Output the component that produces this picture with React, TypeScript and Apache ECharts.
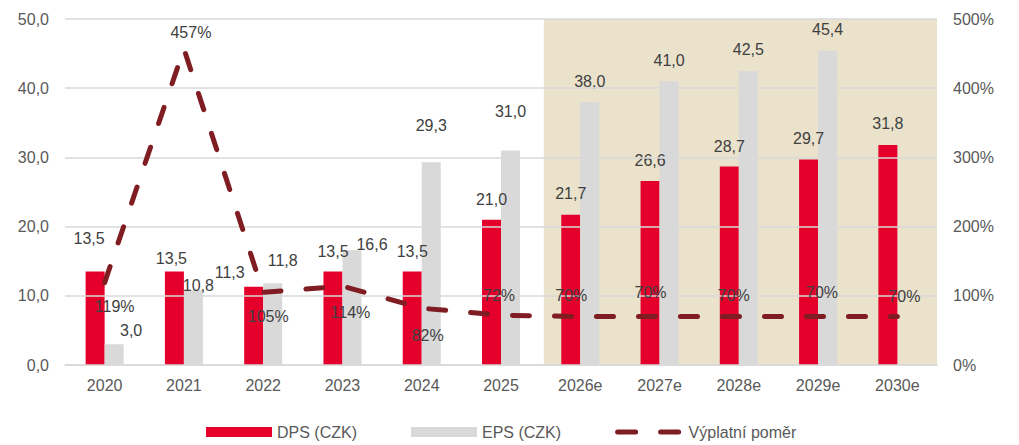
import React, { useEffect, useRef } from "react";
import * as echarts from "echarts";

const categories = ["2020", "2021", "2022", "2023", "2024", "2025", "2026e", "2027e", "2028e", "2029e", "2030e"];
const dps = [13.5, 13.5, 11.3, 13.5, 13.5, 21.0, 21.7, 26.6, 28.7, 29.7, 31.8];
const eps = [3.0, 10.8, 11.8, 16.6, 29.3, 31.0, 38.0, 41.0, 42.5, 45.4, null];
const payout = [119, 457, 105, 114, 82, 72, 70, 70, 70, 70, 70];
const leftTicks = { min: 0, max: 50, interval: 10 };
const rightTicks = { min: 0, max: 500, interval: 100 };
const forecastStart = 6;

// label placement tweaks (styling only)
const dpsLabelOffsets = [[-6, -13], [-3, 7], [-24, 6], [0, 0], [0, 0], [0, 0], [0, -1], [0, 0], [0, 0], [0, -1], [0, -1]];
const epsLabelOffsets = [[17, 7], [5, 16], [10, -2], [20, 15], [0, -16], [0, -18], [0, 0], [0, 0], [0, 0], [0, 0], [0, 0]];
const payoutLabelOffsets = [[10, 24], [7, -16], [5, 24], [8, 26], [6, 27], [-2, -20], [-9, -21], [-9, -24], [-5, -21], [4, -24], [7, -20]];

const fmt1 = (v: number) => v.toFixed(1).replace(".", ",");
const FONT = "'Liberation Sans', Arial, sans-serif";
const FS = 16;
const LABEL_COLOR = "#404040";
const AXIS_COLOR = "#595959";
const LINE_COLOR = "#7F1D22";

export default function App() {
  const ref = useRef<HTMLDivElement>(null);
  useEffect(() => {
    document.body.style.margin = "0";
    if (!ref.current) return;
    const chart = echarts.init(ref.current, null, { renderer: "svg" });
    const labelBase = { show: true, color: LABEL_COLOR, fontSize: FS, fontFamily: FONT };
    chart.setOption({
      animation: false,
      textStyle: { fontFamily: FONT },
      grid: { left: 65, right: 82, top: 19, bottom: 80, containLabel: false },
      legend: {
        left: 206,
        top: 424,
        padding: 0,
        itemWidth: 66,
        itemHeight: 10,
        itemGap: 54,
        textStyle: { color: AXIS_COLOR, fontSize: FS, fontFamily: FONT },
        data: [
          { name: "DPS (CZK)", icon: "rect" },
          { name: "EPS (CZK)", icon: "rect" },
          {
            name: "Výplatní poměr",
            lineStyle: { color: LINE_COLOR, width: 5, type: [18, 25], cap: "round" },
          },
        ],
      },
      xAxis: [
        {
          type: "category",
          data: categories,
          axisTick: { show: false },
          axisLine: { lineStyle: { color: "#D9D9D9", width: 1.5 } },
          axisLabel: { color: AXIS_COLOR, fontSize: FS, margin: 12, fontFamily: FONT },
        },
        { type: "value", min: 0, max: categories.length, show: false },
      ],
      yAxis: [
        {
          type: "value",
          ...leftTicks,
          z: 3,
          axisLabel: { color: AXIS_COLOR, fontSize: FS, margin: 16, formatter: (v: number) => fmt1(v), fontFamily: FONT },
          splitLine: { lineStyle: { color: "#D9D9D9", width: 1.5 } },
          axisLine: { show: false },
          axisTick: { show: false },
        },
        {
          type: "value",
          ...rightTicks,
          axisLabel: { color: AXIS_COLOR, fontSize: FS, margin: 16, formatter: (v: number) => v + "%", fontFamily: FONT },
          splitLine: { show: false },
          axisLine: { show: false },
          axisTick: { show: false },
        },
      ],
      series: [
        {
          name: "shade",
          type: "line",
          xAxisIndex: 1,
          yAxisIndex: 0,
          data: [],
          z: -1,
          markArea: {
            silent: true,
            z: -1,
            itemStyle: { color: "#EAE2CB" },
            data: [[{ xAxis: forecastStart + 0.04 }, { xAxis: categories.length }]],
          },
        },
        {
          name: "DPS (CZK)",
          type: "bar",
          barWidth: 19,
          barGap: "0%",
          itemStyle: { color: "#E4002B" },
          data: dps.map((v, i) => ({
            value: v,
            label: { ...labelBase, position: "top", distance: 12, offset: dpsLabelOffsets[i], formatter: () => fmt1(v) },
          })),
        },
        {
          name: "EPS (CZK)",
          type: "bar",
          barWidth: 19,
          barGap: "0%",
          itemStyle: { color: "#D9D9D9" },
          data: eps.map((v, i) =>
            v == null
              ? null
              : {
                  value: v,
                  label: { ...labelBase, position: "top", distance: 13, offset: epsLabelOffsets[i], formatter: () => fmt1(v) },
                }
          ),
        },
        {
          name: "Výplatní poměr",
          type: "line",
          yAxisIndex: 1,
          symbol: "circle",
          symbolSize: 1,
          itemStyle: { color: "rgba(127,29,34,0)", borderWidth: 0 },
          lineStyle: { color: LINE_COLOR, width: 5, type: [17, 25], cap: "round" },
          z: 4,
          data: payout.map((v, i) => ({
            value: v,
            label: { ...labelBase, position: "inside", offset: payoutLabelOffsets[i], formatter: () => v + "%" },
          })),
        },
      ],
    });
    return () => chart.dispose();
  }, []);
  return <div ref={ref} style={{ width: 1019, height: 445 }} />;
}
